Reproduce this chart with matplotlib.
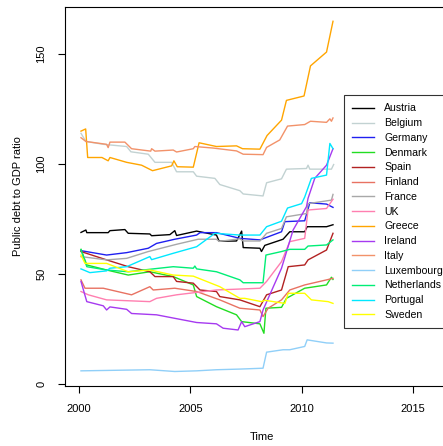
import matplotlib
matplotlib.use("Agg")
import matplotlib.pyplot as plt

plt.rcParams['font.family'] = ['Liberation Sans', 'DejaVu Sans']

# public debt to GDP ratio (time in decimal years)
austria_t = [2000.09, 2000.31, 2000.35, 2001.31, 2001.39, 2002.06, 2002.21, 2003.18, 2003.26, 2004.08, 2004.30, 2004.38,
             2005.28, 2006.17, 2006.29, 2007.07, 2007.30, 2007.37, 2008.12, 2008.19, 2008.34, 2009.16, 2009.46, 2010.13,
             2010.24, 2011.11, 2011.40]
austria_v = [68.9, 70, 68.8, 68.8, 69.7, 70.2, 68.5, 68.2, 67.4, 67.9, 69.7, 67.5,
             69.5, 67.7, 64.9, 65, 69.5, 62, 61.7, 60.2, 63, 65.8, 69.2, 69.2,
             71.5, 71.5, 72.4]

belgium_t = [2000.09, 2000.31, 2001.09, 2002.14, 2002.33, 2003.11, 2003.41, 2004.16, 2004.38, 2005.13, 2005.28, 2006.10,
             2006.32, 2007.22, 2007.37, 2008.26, 2008.42, 2009.09, 2009.31, 2010.21, 2010.28, 2010.36, 2011.33, 2011.43]
belgium_v = [114, 110.3, 109, 108, 105.6, 104.5, 100.8, 100.8, 96.5, 96.5, 94.5, 93.5,
             90.7, 87.9, 86.4, 85.5, 91.5, 93.3, 97.7, 98, 99.5, 97.7, 97.7, 99.8]

germany_t = [2000.09, 2001.24, 2002.14, 2003.11, 2003.48, 2004.30, 2005.28, 2005.43, 2006.17, 2007.22, 2008.12, 2009.09,
             2009.24, 2010.13, 2010.36, 2011.11, 2011.40]
germany_v = [60.6, 58.6, 59.7, 61.7, 63.9, 65.8, 67.7, 68.8, 68.8, 66.2, 65.5, 69.2,
             73.8, 74.2, 82.4, 81.8, 80.3]

denmark_t = [2000.09, 2000.35, 2001.24, 2002.21, 2003.18, 2004.23, 2005.13, 2005.28, 2006.17, 2007.07, 2007.30, 2008.12,
             2008.30, 2008.39, 2009.09, 2009.31, 2010.13, 2011.11, 2011.33, 2011.40]
denmark_v = [61.2, 54.1, 51.8, 49.5, 51, 48.8, 45, 39.7, 35.1, 31.4, 28.3, 27.3,
             23, 34.4, 34.8, 38.9, 43.5, 45, 48.5, 47.5]

spain_t = [2000.09, 2001.24, 2002.21, 2003.18, 2003.41, 2004.23, 2004.38, 2005.13, 2005.43, 2006.17, 2006.32, 2007.22,
           2008.12, 2008.42, 2009.09, 2009.39, 2010.13, 2010.28, 2011.11, 2011.40]
spain_v = [60.2, 56.4, 53.3, 51, 48.8, 48.8, 46.6, 45.8, 42.7, 42, 39.7, 38.2,
           35.1, 40.5, 42.7, 53.3, 54.1, 56.4, 60.9, 68.5]

finland_t = [2000.09, 2000.27, 2001.09, 2002.36, 2003.18, 2003.33, 2004.30, 2005.28, 2006.32, 2007.22, 2008.12, 2008.26,
             2008.49, 2009.09, 2009.46, 2010.13, 2011.11, 2011.40]
finland_v = [47.3, 43.5, 43.5, 40.5, 44.2, 42.7, 43.5, 42, 38.2, 34.4, 33.6, 30.6,
             34.4, 38.2, 42.7, 45, 47.3, 48]

france_t = [2000.09, 2001.24, 2002.14, 2003.11, 2004.38, 2005.35, 2006.17, 2006.29, 2007.22, 2007.37, 2008.12, 2008.42,
            2009.09, 2009.31, 2010.21, 2010.28, 2011.33, 2011.40]
france_v = [57.9, 56.4, 57.1, 60.2, 63.5, 65.8, 65.8, 64.8, 66, 65, 65, 68.5,
            70.7, 76, 77.5, 82, 83.6, 86.2]

uk_t = [2000.09, 2000.42, 2001.24, 2003.18, 2003.48, 2004.38, 2006.17, 2008.12, 2008.42, 2009.09, 2009.46, 2010.13,
        2010.28, 2011.11, 2011.40]
uk_v = [42, 40.5, 38.2, 37.4, 38.9, 40.5, 42.7, 43.5, 46.6, 55.6, 64.7, 66.2,
        79.1, 79.8, 84]

greece_t = [2000.09, 2000.30, 2000.39, 2001.03, 2001.31, 2001.39, 2002.14, 2002.81, 2003.30, 2004.16, 2004.26, 2004.41,
            2005.13, 2005.39, 2006.17, 2007.07, 2007.34, 2008.12, 2008.44, 2009.09, 2009.31, 2010.10, 2010.39, 2011.11,
            2011.40]
greece_v = [115, 116, 103, 103, 101.5, 103, 100.8, 99.5, 97, 99.2, 101.5, 98.8,
            98.6, 109.7, 108, 108.3, 107, 106.8, 113, 120, 129, 131, 144.7, 151,
            165]

ireland_t = [2000.09, 2000.35, 2001.09, 2001.24, 2001.39, 2002.14, 2002.36, 2003.48, 2004.30, 2005.28, 2006.17, 2006.47,
             2007.14, 2007.30, 2007.44, 2008.12, 2008.26, 2009.09, 2009.61, 2010.21, 2010.28, 2010.58, 2011.11, 2011.40]
ireland_v = [46.6, 37.4, 35.5, 33.6, 35, 33.9, 32, 31.4, 29.8, 27.9, 27.3, 25.3,
             24.5, 28.3, 26, 28.3, 33.6, 52.6, 70, 80.6, 84.4, 93.5, 99.5, 107]

italy_t = [2000.09, 2000.31, 2001.24, 2001.31, 2001.39, 2002.06, 2002.36, 2003.22, 2003.26, 2003.41, 2004.23, 2004.38,
           2005.13, 2005.20, 2006.02, 2007.07, 2007.37, 2008.26, 2008.42, 2009.01, 2009.36, 2010.13, 2010.39, 2011.11,
           2011.26, 2011.33, 2011.40]
italy_v = [112, 110.3, 109, 107.5, 110, 110, 107, 105.9, 107, 105.9, 106.4, 105.5,
           107, 108, 107.3, 106, 104.5, 104.3, 107.6, 111, 117.3, 118, 119.5, 119,
           120.6, 119.5, 121]

luxembourg_t = [2000.09, 2003.18, 2004.30, 2005.28, 2006.17, 2007.22, 2008.26, 2008.42, 2009.16, 2009.46, 2010.13,
                2010.24, 2011.11, 2011.40]
luxembourg_v = [5.9, 6.4, 5.6, 5.9, 6.4, 6.7, 7.1, 14.4, 15.5, 15.5, 17,
                20, 18.6, 18.5]

netherlands_t = [2000.09, 2000.35, 2001.24, 2002.21, 2003.33, 2004.23, 2005.13, 2005.20, 2005.28, 2006.17, 2007.22,
                 2007.37, 2008.26, 2008.39, 2009.09, 2009.46, 2010.13, 2010.28, 2011.11, 2011.40]
netherlands_v = [61, 53.3, 51.8, 51, 52.3, 53.3, 52.6, 53.6, 52.3, 51, 47.3,
                 46, 46, 58.6, 60.2, 61.2, 61.2, 62.7, 63.2, 65.5]

portugal_t = [2000.09, 2000.49, 2001.24, 2001.39, 2002.14, 2003.18, 2003.26, 2004.23, 2005.28, 2006.10, 2007.22,
              2008.12, 2008.42, 2009.09, 2009.36, 2009.99, 2010.13, 2010.43, 2011.11, 2011.26, 2011.40]
portugal_v = [52.3, 50.6, 51.4, 52.6, 53.3, 57.9, 56.5, 59.4, 62.4, 68.5, 67.7,
              67.7, 71.5, 74, 80, 82, 85, 93.5, 95, 109.4, 107]

sweden_t = [2000.09, 2000.27, 2001.24, 2002.21, 2003.18, 2004.23, 2005.13, 2006.32, 2007.22, 2007.44, 2008.19,
            2008.34, 2009.24, 2009.39, 2010.13, 2010.43, 2011.18, 2011.40]
sweden_v = [58.6, 54.8, 54.8, 51, 51.8, 49.5, 49, 44.2, 38.9, 38.9, 37.4,
            38, 36.6, 41.2, 41.2, 38.2, 37.4, 36.6]

countries = ["Austria", "Belgium", "Germany", "Denmark", "Spain", "Finland", "France", "UK",
             "Greece", "Ireland", "Italy", "Luxembourg", "Netherlands", "Portugal", "Sweden"]
times = [austria_t, belgium_t, germany_t, denmark_t, spain_t, finland_t, france_t, uk_t,
         greece_t, ireland_t, italy_t, luxembourg_t, netherlands_t, portugal_t, sweden_t]
values = [austria_v, belgium_v, germany_v, denmark_v, spain_v, finland_v, france_v, uk_v,
          greece_v, ireland_v, italy_v, luxembourg_v, netherlands_v, portugal_v, sweden_v]
colors = ["black", "#C2D2D2", "#2020F0", "#22DD22", "#B22222", "#E87262", "#A8A8A8", "#FF7FB0",
          "#FFA500", "#A63AF0", "#F2926A", "#90CFF8", "#00EE76", "#00E8FF", "#FFFF00"]

fig = plt.figure(figsize=(4.43, 4.46), dpi=100)
# axes box runs past the right edge of the picture, like the cropped original
ax = fig.add_axes([64.5 / 443, 60 / 446, 395.5 / 443, 379 / 446])

for name, t, v, c in zip(countries, times, values, colors):
    ax.plot(t, v, color=c, lw=1.0, label=name)

ax.set_xlim(1999.35, 2017.1)
ax.set_ylim(-1.0, 171.5)
ax.set_xticks([2000, 2005, 2010, 2015])
ax.set_yticks([0, 50, 100, 150])
ax.set_yticklabels(["0", "50", "100", "150"], rotation=90, va="center")
ax.tick_params(direction="out", length=5, width=0.8, labelsize=8, pad=8)
for s in ax.spines.values():
    s.set_linewidth(0.8)

ax.set_xlabel("Time", fontsize=8, labelpad=13)
ax.set_ylabel("Public debt to GDP ratio", fontsize=8, labelpad=10)

leg = ax.legend(loc="upper left", bbox_to_anchor=(344 / 443, 351 / 446), bbox_transform=fig.transFigure,
                borderaxespad=0, fontsize=7.6, frameon=True, fancybox=False, edgecolor="black",
                handlelength=2.0, handletextpad=1.0, labelspacing=0.45, borderpad=0.8)
leg.get_frame().set_linewidth(0.8)
for line in leg.get_lines():
    line.set_linewidth(1.0)

fig.savefig("out.png", dpi=100)
